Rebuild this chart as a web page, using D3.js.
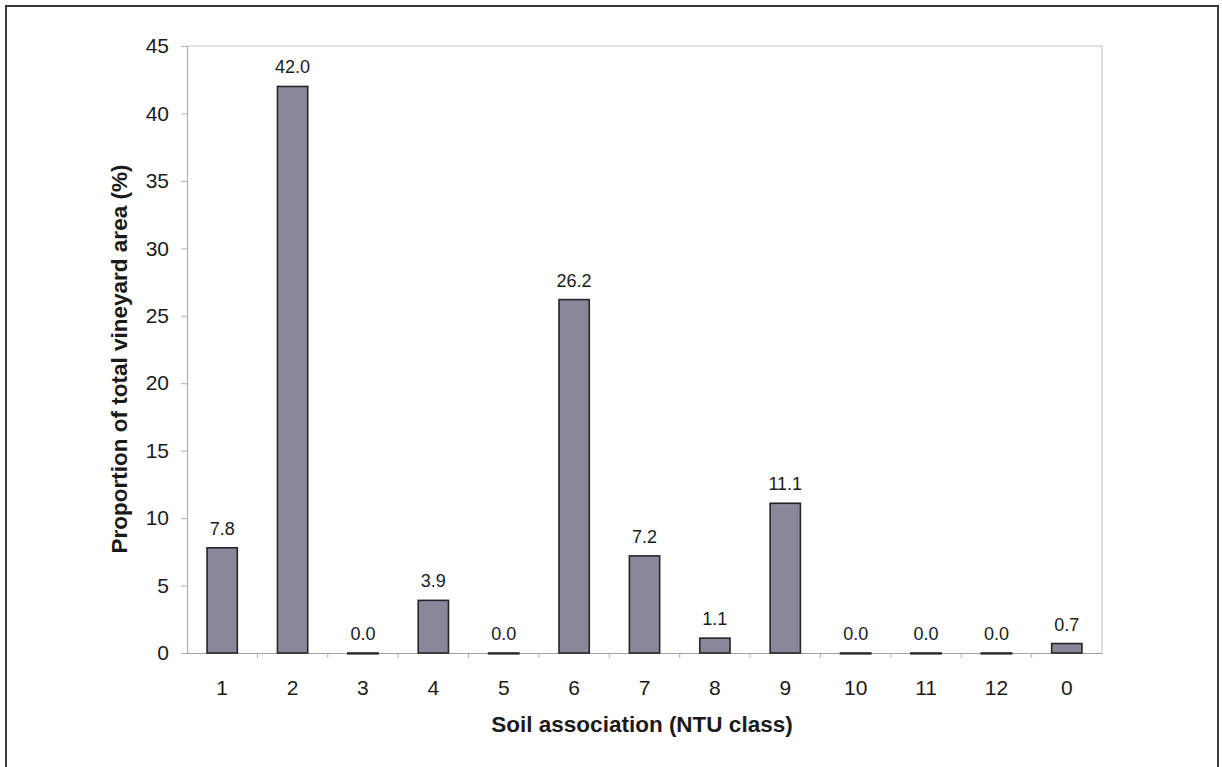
<!DOCTYPE html>
<html>
<head>
<meta charset="utf-8">
<script src="https://cdn.jsdelivr.net/npm/d3@7"></script>
<style>
  html, body { margin: 0; padding: 0; background: #fff; }
  svg { display: block; font-family: "Liberation Sans", Arial, sans-serif; }
</style>
</head>
<body>
<svg id="chart" width="1222" height="767"></svg>
<script>
// Soil association classes and share of vineyard area (%)
const categories = ["1", "2", "3", "4", "5", "6", "7", "8", "9", "10", "11", "12", "0"];
const values = [7.8, 42.0, 0.0, 3.9, 0.0, 26.2, 7.2, 1.1, 11.1, 0.0, 0.0, 0.0, 0.7];
const yTicks = [0, 5, 10, 15, 20, 25, 30, 35, 40, 45];

const svg = d3.select("#chart");
const W = 1222, H = 767;
const plot = { left: 187, right: 1102, top: 46, bottom: 653 };
const FONT = "Liberation Sans, Arial, sans-serif";

// Figure frame
svg.append("path")
  .attr("d", `M6,${H + 2} L6,6 L1218,6 L1218,${H + 2}`)
  .attr("fill", "none").attr("stroke", "#3a3a3a").attr("stroke-width", 2);

const x = d3.scaleBand().domain(categories).range([plot.left, plot.right]).paddingInner(0).paddingOuter(0);
const y = d3.scaleLinear().domain([0, 45]).range([plot.bottom, plot.top]);

// Plot area border (top and right)
svg.append("path")
  .attr("d", `M${plot.left},${plot.top} L${plot.right},${plot.top} L${plot.right},${plot.bottom}`)
  .attr("fill", "none").attr("stroke", "#c8c8c8").attr("stroke-width", 1.2);

// Y axis
const yAxis = svg.append("g").attr("transform", `translate(${plot.left},0)`)
  .call(d3.axisLeft(y).tickValues(yTicks).tickSize(6).tickPadding(12));
yAxis.select(".domain").attr("stroke", "#b0b0b0").attr("stroke-width", 1.2);
yAxis.selectAll(".tick line").attr("stroke", "#b0b0b0");
yAxis.selectAll(".tick text").attr("font-size", 21).attr("fill", "#1a1a1a")
  .attr("font-family", FONT);

// X axis with tick marks between categories
const xAxis = svg.append("g").attr("transform", `translate(0,${plot.bottom})`)
  .call(d3.axisBottom(x).tickSize(0).tickPadding(27));
xAxis.select(".domain").attr("stroke", "#a0a0a0").attr("stroke-width", 1.2);
xAxis.selectAll(".tick text").attr("font-size", 21).attr("fill", "#1a1a1a")
  .attr("font-family", FONT);
xAxis.selectAll(".sep").data(categories.slice(1)).enter().append("line")
  .attr("x1", d => x(d)).attr("x2", d => x(d))
  .attr("y1", 0).attr("y2", 5)
  .attr("stroke", "#b0b0b0");

// Bars
const barW = x.bandwidth() * 0.43;
svg.append("g").selectAll("rect").data(values).enter().append("rect")
  .attr("x", (d, i) => x(categories[i]) + (x.bandwidth() - barW) / 2)
  .attr("y", d => y(d))
  .attr("width", barW)
  .attr("height", d => Math.max(y(0) - y(d), 0.8))
  .attr("fill", "#88889a")
  .attr("stroke", "#262626").attr("stroke-width", 1.6);

// Value labels
svg.append("g").selectAll("text").data(values).enter().append("text")
  .attr("x", (d, i) => x(categories[i]) + x.bandwidth() / 2)
  .attr("y", d => y(d) - 13)
  .attr("text-anchor", "middle")
  .attr("font-size", 18).attr("fill", "#1a1a1a")
  .text(d => d.toFixed(1));

// Axis titles
svg.append("text")
  .attr("transform", `translate(127,359) rotate(-90)`)
  .attr("text-anchor", "middle").attr("font-weight", "bold").attr("font-size", 22.5)
  .attr("fill", "#1a1a1a")
  .text("Proportion of total vineyard area (%)");

svg.append("text")
  .attr("x", 642).attr("y", 732)
  .attr("text-anchor", "middle").attr("font-weight", "bold").attr("font-size", 22.5)
  .attr("fill", "#1a1a1a")
  .text("Soil association (NTU class)");
</script>
</body>
</html>
